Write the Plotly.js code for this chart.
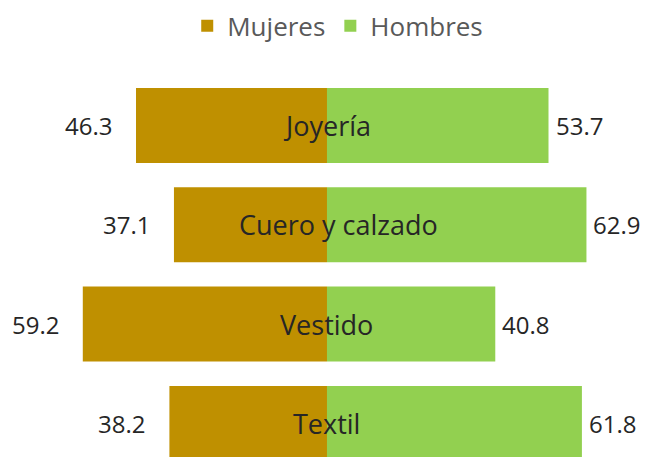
<!DOCTYPE html>
<html><head><meta charset="utf-8">
<script src="https://cdn.plot.ly/plotly-3.0.1.min.js"></script>
<style>html,body{margin:0;padding:0;background:#fff}#chart{width:647px;height:457px}</style>
</head><body><div id="chart"></div>
<script>
const categories = ["Textil", "Vestido", "Cuero y calzado", "Joyería"];
const mujeres = [38.2, 59.2, 37.1, 46.3];
const hombres = [61.8, 40.8, 62.9, 53.7];
const seriesNames = ["Mujeres", "Hombres"];

const FONT = "Open Sans, Lato, sans-serif";
const txtColor = "#262626";

const traces = [
  {type: "bar", orientation: "h", name: seriesNames[0], y: categories,
   x: mujeres.map(v => -v), marker: {color: "#BF9000"}, width: 0.755, hoverinfo: "skip"},
  {type: "bar", orientation: "h", name: seriesNames[1], y: categories,
   x: hombres, marker: {color: "#92D050"}, width: 0.755, hoverinfo: "skip"}
];

const annotations = [];
categories.forEach((c, i) => {
  annotations.push({x: -mujeres[i], y: c, text: mujeres[i].toFixed(1), showarrow: false,
    xanchor: "right", xshift: -22, font: {family: FONT, size: 24, color: txtColor}});
  annotations.push({x: hombres[i], y: c, text: hombres[i].toFixed(1), showarrow: false,
    xanchor: "left", xshift: 5, font: {family: FONT, size: 24, color: txtColor}});
  annotations.push({x: 0, y: c, text: c, showarrow: false, xanchor: "center",
    xshift: c === "Cuero y calzado" ? 12 : 0,
    font: {family: FONT, size: 27, color: txtColor}});
});

const layout = {
  width: 647, height: 457,
  margin: {l: 0, r: 0, t: 60, b: 0},
  paper_bgcolor: "#fff", plot_bgcolor: "#fff",
  barmode: "relative",
  showlegend: true,
  legend: {orientation: "h", x: 0.522, xanchor: "center", y: 0.995, yanchor: "top", yref: "container",
    font: {family: FONT, size: 26, color: "#595959"}, traceorder: "normal", itemwidth: 30},
  xaxis: {range: [-79.27, 77.58], visible: false, fixedrange: true},
  yaxis: {type: "category", categoryorder: "array", categoryarray: categories,
    range: [-0.338, 3.659], visible: false, fixedrange: true},
  annotations: annotations
};

Plotly.newPlot("chart", traces, layout, {displayModeBar: false, staticPlot: true});
</script></body></html>
